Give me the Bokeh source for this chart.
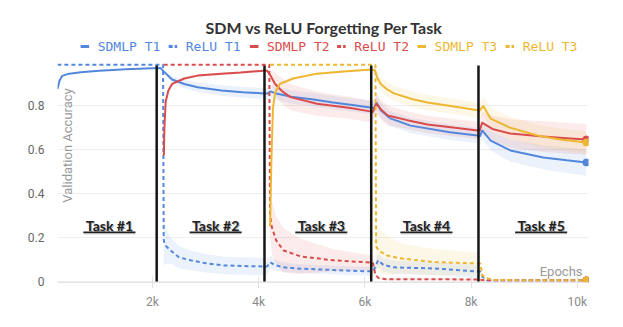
import math
from bokeh.plotting import figure
from bokeh.layouts import column
from bokeh.models import Range1d, Label
from bokeh.core.properties import value
from bokeh.embed import file_html
from bokeh.resources import INLINE

BLUE, RED, ORANGE = "#5387dd", "#da4c4c", "#edb732"

# ---- data (epochs, validation accuracy, band half-width) ----
sdm_t1_x = [210, 250, 300, 400, 650, 1000, 1500, 2000, 2150, 2220, 2370, 2600, 2850, 3300, 3700, 4100,
            4170, 4220, 4350, 4650, 5000, 5400, 5800, 6100, 6170, 6220, 6300, 6480, 6860, 7600, 8120,
            8170, 8210, 8370, 8740, 9360, 9800, 10170]
sdm_t1_y = [0.877, 0.915, 0.937, 0.945, 0.953, 0.96, 0.967, 0.972, 0.973, 0.955, 0.92, 0.9, 0.885, 0.87, 0.862, 0.857,
            0.856, 0.866, 0.855, 0.84, 0.83, 0.815, 0.803, 0.793, 0.79, 0.815, 0.78, 0.743, 0.71, 0.68, 0.665,
            0.662, 0.688, 0.642, 0.597, 0.565, 0.552, 0.542]
sdm_t1_s = [0, 0, 0, 0, 0, 0, 0, 0, 0, 0.008, 0.015, 0.02, 0.022, 0.024, 0.025, 0.025,
            0.025, 0.028, 0.03, 0.03, 0.03, 0.03, 0.03, 0.03, 0.03, 0.03, 0.035, 0.035, 0.035, 0.035, 0.035,
            0.035, 0.04, 0.045, 0.05, 0.055, 0.058, 0.06]

sdm_t2_x = [2215, 2225, 2250, 2300, 2370, 2600, 2850, 3300, 3660, 4090, 4150, 4180, 4230, 4310, 4450, 4600,
            5100, 5730, 6100, 6150, 6220, 6300, 6430, 6800, 7180, 7700, 8120, 8160, 8210, 8400, 8740, 9360,
            9800, 10170]
sdm_t2_y = [0.574, 0.7, 0.82, 0.87, 0.9, 0.925, 0.938, 0.946, 0.952, 0.96, 0.961, 0.955, 0.935, 0.9, 0.865, 0.84,
            0.81, 0.79, 0.775, 0.772, 0.81, 0.785, 0.756, 0.735, 0.715, 0.7, 0.688, 0.686, 0.724, 0.695, 0.674, 0.66,
            0.653, 0.647]
sdm_t2_s = [0, 0.02, 0.015, 0.01, 0.008, 0.006, 0.005, 0.005, 0.005, 0.005, 0.005, 0.01, 0.03, 0.05, 0.06, 0.06,
            0.055, 0.05, 0.05, 0.05, 0.045, 0.045, 0.045, 0.04, 0.04, 0.04, 0.04, 0.04, 0.05, 0.06, 0.065, 0.07,
            0.07, 0.07]

sdm_t3_x = [4215, 4240, 4270, 4310, 4400, 4650, 5100, 5600, 6120, 6190, 6230, 6300, 6420, 6550, 6900, 7180,
            7800, 8120, 8160, 8230, 8300, 8370, 8740, 9250, 9680, 10170]
sdm_t3_y = [0.25, 0.55, 0.79, 0.86, 0.9, 0.925, 0.947, 0.957, 0.966, 0.962, 0.93, 0.9, 0.875, 0.857, 0.83, 0.815,
            0.793, 0.78, 0.778, 0.8, 0.77, 0.742, 0.70, 0.665, 0.647, 0.633]
sdm_t3_s = [0, 0.02, 0.02, 0.015, 0.01, 0.008, 0.006, 0.005, 0.005, 0.008, 0.02, 0.03, 0.035, 0.035, 0.035, 0.035,
            0.035, 0.035, 0.035, 0.04, 0.045, 0.05, 0.05, 0.05, 0.05, 0.05]

relu_t1_x = [210, 2200, 2212, 2225, 2260, 2340, 2500, 2720, 3000, 3340, 3700, 4100, 4160, 4220, 4300, 4470,
             4800, 5100, 5600, 6050, 6160, 6250, 6350, 6550, 7300, 8100, 8170, 8220, 8300, 10170]
relu_t1_y = [0.988, 0.988, 0.19, 0.175, 0.16, 0.141, 0.11, 0.096, 0.083, 0.073, 0.07, 0.068, 0.068, 0.087, 0.075, 0.064,
             0.058, 0.055, 0.05, 0.046, 0.046, 0.096, 0.075, 0.064, 0.059, 0.046, 0.045, 0.02, 0.005, 0.005]
relu_t1_s = [0, 0, 0.12, 0.1, 0.08, 0.06, 0.05, 0.045, 0.042, 0.04, 0.04, 0.04, 0.035, 0.03, 0.025, 0.022,
             0.02, 0.02, 0.02, 0.02, 0.02, 0.03, 0.03, 0.03, 0.03, 0.03, 0.02, 0.005, 0, 0]

relu_t2_x = [2212, 4200, 4215, 4250, 4330, 4470, 4790, 5410, 6050, 6150, 6200, 6260, 6400, 8150, 8250, 10170]
relu_t2_y = [0.988, 0.988, 0.3, 0.246, 0.187, 0.141, 0.114, 0.096, 0.087, 0.085, 0.03, 0.015, 0.01, 0.009, 0.005, 0.005]
relu_t2_s = [0, 0, 0.1, 0.12, 0.11, 0.1, 0.08, 0.05, 0.035, 0.033, 0.01, 0.005, 0.005, 0.005, 0, 0]

relu_t3_x = [4215, 6200, 6212, 6260, 6420, 6670, 7300, 8120, 8180, 8210, 8300, 8450, 10170]
relu_t3_y = [0.988, 0.988, 0.16, 0.141, 0.118, 0.105, 0.088, 0.082, 0.08, 0.027, 0.014, 0.006, 0.005]
relu_t3_s = [0, 0, 0.1, 0.1, 0.09, 0.07, 0.06, 0.05, 0.04, 0.01, 0.005, 0, 0]

task_bounds = [2080, 4110, 6120, 8140]
task_names = ["Task #1", "Task #2", "Task #3", "Task #4", "Task #5"]
task_label_x = [1190, 3190, 5180, 7160, 9320]

x_ticks = [2000, 4000, 6000, 8000, 10000]
x_tick_labels = ["2k", "4k", "6k", "8k", "10k"]
y_ticks = [0, 0.2, 0.4, 0.6, 0.8]
y_tick_labels = ["0", "0.2", "0.4", "0.6", "0.8"]

series = [
    ("SDMLP T1", sdm_t1_x, sdm_t1_y, sdm_t1_s, BLUE, None),
    ("ReLU T1", relu_t1_x, relu_t1_y, relu_t1_s, BLUE, "4 3"),
    ("SDMLP T2", sdm_t2_x, sdm_t2_y, sdm_t2_s, RED, None),
    ("ReLU T2", relu_t2_x, relu_t2_y, relu_t2_s, RED, "4 3"),
    ("SDMLP T3", sdm_t3_x, sdm_t3_y, sdm_t3_s, ORANGE, None),
    ("ReLU T3", relu_t3_x, relu_t3_y, relu_t3_s, ORANGE, "4 3"),
]
legend_swatch_px = [27, 130, 225, 327, 421, 524]

W = 621
HEAD_H = 58
FL, FR, FB = 57, 588, 282  # frame left / right / bottom in page pixels

# ---- header (title + legend), drawn in pixel coordinates ----
head = figure(width=W, height=HEAD_H, output_backend="svg", toolbar_location=None,
              x_range=Range1d(0, W), y_range=Range1d(HEAD_H, 0), x_axis_type=None, y_axis_type=None,
              min_border=0, min_border_left=0, min_border_right=0, min_border_top=0, min_border_bottom=0)
head.outline_line_color = None
head.xgrid.visible = False
head.ygrid.visible = False
head.text(x=[312], y=[27], text=["SDM vs ReLU Forgetting Per Task"], text_align="center",
          text_baseline="middle", text_font=value("Lato"), text_font_style="bold",
          text_font_size="16px", text_color="#333333")
LEG_Y = 46
for (name, xs, ys, ss, c, dash), lx in zip(series, legend_swatch_px):
    kw = dict(line_color=c, line_width=3)
    if dash:
        kw["line_dash"] = "4 2"
    head.segment(x0=[lx], y0=[LEG_Y], x1=[lx + 10], y1=[LEG_Y], **kw)
    head.text(x=[lx + 20], y=[LEG_Y], text=[name], text_align="left", text_baseline="middle",
              text_font=value("DejaVu Sans Mono"), text_font_size="13px", text_color=c)

# ---- main chart ----
MAIN_H = 267
p = figure(width=W, height=MAIN_H, output_backend="svg", toolbar_location=None,
           x_range=Range1d(212, 10212), y_range=Range1d(-0.005, 1.016),
           min_border_left=FL, min_border_right=W - FR, min_border_top=0,
           min_border_bottom=MAIN_H - (FB - HEAD_H))
p.outline_line_color = None
p.xgrid.visible = False
p.yaxis.ticker = y_ticks
p.ygrid.grid_line_color = "#eeeeee"
p.yaxis.major_label_overrides = {t: l for t, l in zip(y_ticks, y_tick_labels)}
p.yaxis.axis_line_color = None
p.yaxis.major_tick_line_color = None
p.yaxis.minor_tick_line_color = None
p.yaxis.major_tick_out = 0
p.yaxis.major_tick_in = 0
p.yaxis.major_label_standoff = 13
p.yaxis.major_label_text_color = "#666666"
p.yaxis.major_label_text_font = "Roboto"
p.yaxis.major_label_text_font_size = "12px"

p.xaxis.ticker = x_ticks
p.xaxis.major_label_overrides = {t: l for t, l in zip(x_ticks, x_tick_labels)}
p.xaxis.axis_line_color = "#e3e3e3"
p.xaxis.major_tick_line_color = "#e3e3e3"
p.xaxis.minor_tick_line_color = None
p.xaxis.major_tick_in = 6
p.xaxis.major_tick_out = 6
p.xaxis.major_label_standoff = 6
p.xaxis.major_label_text_color = "#8a8a8a"
p.xaxis.major_label_text_font = "Roboto"
p.xaxis.major_label_text_font_size = "12px"

# bands
for name, xs, ys, ss, c, dash in series:
    lo = [y - s for y, s in zip(ys, ss)]
    hi = [y + s for y, s in zip(ys, ss)]
    p.varea(x=xs, y1=lo, y2=hi, fill_color=c, fill_alpha=0.11)

# lines
for name, xs, ys, ss, c, dash in series:
    kw = dict(line_color=c, line_width=2)
    if dash:
        kw["line_dash"] = dash
    p.line(xs, ys, **kw)
for name, xs, ys, ss, c, dash in series:
    p.scatter([xs[-1]], [ys[-1]], size=7, color=c)

# task boundaries
p.segment(x0=task_bounds, y0=[0] * len(task_bounds), x1=task_bounds, y1=[0.984] * len(task_bounds),
          line_color="#151515", line_width=2.5)

# task labels (shadow + text + underline)
half = 490
p.text(x=task_label_x, y=[0.255] * 5, text=task_names, text_align="center", text_baseline="middle",
       text_font=value("Lato"), text_font_style="bold", text_font_size="14px", text_color="#b5b5b5",
       x_offset=1, y_offset=1.5)
p.text(x=task_label_x, y=[0.255] * 5, text=task_names, text_align="center", text_baseline="middle",
       text_font=value("Lato"), text_font_style="bold", text_font_size="14px", text_color="#222222")
p.segment(x0=[x - half for x in task_label_x], y0=[0.2185] * 5, x1=[x + half for x in task_label_x],
          y1=[0.2185] * 5, line_color="#b5b5b5", line_width=1.5)
p.segment(x0=[x - half for x in task_label_x], y0=[0.224] * 5, x1=[x + half for x in task_label_x],
          y1=[0.224] * 5, line_color="#222222", line_width=1.3)

p.add_layout(Label(x=67 - FL, y=FB - 145, x_units="screen", y_units="screen", text="Validation Accuracy",
                   angle=math.pi / 2, text_align="center", text_baseline="middle", text_font="Roboto",
                   text_font_size="13px", text_color="#9a9a9a"))
p.add_layout(Label(x=582 - FL, y=FB - 271, x_units="screen", y_units="screen", text="Epochs",
                   text_align="right", text_baseline="middle", text_font="Roboto",
                   text_font_size="13px", text_color="#9a9a9a"))

layout = column(head, p, spacing=0)
open("out.html", "w").write(file_html(layout, INLINE))
